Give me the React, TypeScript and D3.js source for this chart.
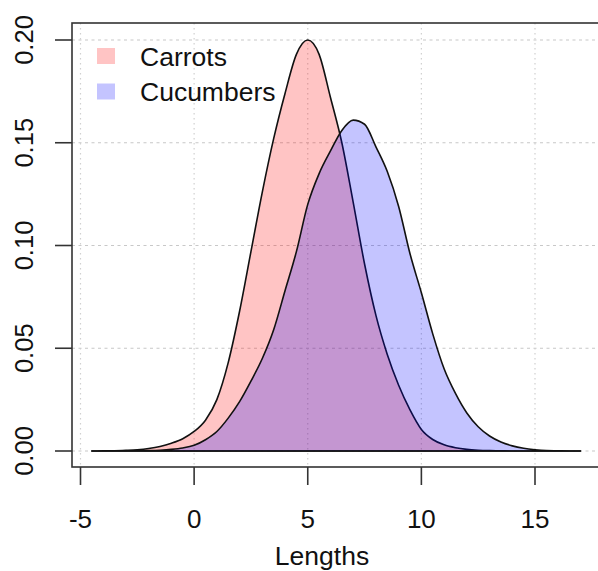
import React from "react";
import * as d3 from "d3";

const lengths = [-4.5,-4,-3.5,-3,-2.5,-2,-1.5,-1,-0.5,0,0.5,1,1.5,2,2.5,3,3.5,4,4.5,5,5.5,6,6.5,7,7.5,8,8.5,9,9.5,10,10.5,11,11.5,12,12.5,13,13.5,14,14.5,15,15.5,16,16.5,17];
const carrots = [0,0.00005,0.0001,0.0003,0.0006,0.0012,0.0022,0.0038,0.006,0.0095,0.015,0.025,0.043,0.068,0.097,0.126,0.152,0.174,0.193,0.2,0.193,0.172,0.15,0.121,0.091,0.066,0.047,0.032,0.02,0.0105,0.0056,0.003,0.0016,0.0008,0.0004,0.0002,0.0001,0,0,0,0,0,0,0];
const cucumbers = [0,0,0.00002,0.00005,0.0001,0.0002,0.0004,0.0008,0.0015,0.0028,0.0055,0.0095,0.016,0.024,0.034,0.045,0.059,0.078,0.097,0.12,0.135,0.146,0.156,0.161,0.159,0.148,0.136,0.119,0.096,0.077,0.057,0.04,0.028,0.0185,0.0118,0.0073,0.0044,0.0025,0.0013,0.0006,0.0002,0.0001,0,0];
const xTicks = [-5, 0, 5, 10, 15];
const yTicks = [0, 0.05, 0.1, 0.15, 0.2];
const seriesNames = ["Carrots", "Cucumbers"];
const seriesColors = ["rgba(255,0,0,0.23)", "rgba(0,0,255,0.23)"];

export default function App() {
  const W = 598, H = 571;
  const left = 72, top = 23, bottom = 467;
  const x = d3.scaleLinear().domain([-5, 15]).range([80.5, 535]);
  const y = d3.scaleLinear().domain([0, 0.2]).range([451, 40]);
  const area = d3.area<number>()
    .x((_, i) => x(lengths[i]))
    .y0(y(0))
    .y1((d) => y(d))
    .curve(d3.curveMonotoneX);
  const series = [carrots, cucumbers];
  const font = "'Liberation Sans', Arial, Helvetica, sans-serif";
  return (
    <svg width={W} height={H} style={{ position: "absolute", left: 0, top: 0, background: "#fff" }}>
      <defs>
        <clipPath id="plot">
          <rect x={left} y={top} width={W - left} height={bottom - top} />
        </clipPath>
      </defs>
      <g clipPath="url(#plot)">
        {yTicks.map((t) => (
          <line key={"gy" + t} x1={left} x2={W} y1={y(t)} y2={y(t)} stroke="#c8c8c8" strokeWidth={1.2} strokeDasharray="3,3.5" />
        ))}
        {xTicks.map((t) => (
          <line key={"gx" + t} x1={x(t)} x2={x(t)} y1={top} y2={bottom} stroke="#d0d0d0" strokeWidth={1.2} strokeDasharray="1.5,3.5" />
        ))}
        {series.map((s, i) => (
          <path key={"a" + i} d={area(s) || ""} fill={seriesColors[i]} stroke="#111" strokeWidth={1.6} strokeLinejoin="round" />
        ))}
      </g>
      <rect x={left} y={top} width={W} height={bottom - top} fill="none" stroke="#333" strokeWidth={1.6} />
      {yTicks.map((t) => (
        <g key={"yt" + t}>
          <line x1={55} x2={left} y1={y(t)} y2={y(t)} stroke="#333" strokeWidth={1.6} />
          <text transform={`translate(33,${y(t)}) rotate(-90)`} textAnchor="middle" fontFamily={font} fontSize={25.5} fill="#111">
            {t.toFixed(2)}
          </text>
        </g>
      ))}
      {xTicks.map((t) => (
        <g key={"xt" + t}>
          <line x1={x(t)} x2={x(t)} y1={bottom} y2={485} stroke="#333" strokeWidth={1.6} />
          <text x={x(t)} y={528} textAnchor="middle" fontFamily={font} fontSize={26} fill="#111">
            {t}
          </text>
        </g>
      ))}
      <text x={322} y={565} textAnchor="middle" fontFamily={font} fontSize={26.5} fill="#111">Lengths</text>
      {seriesNames.map((n, i) => (
        <g key={"lg" + n}>
          <rect x={97} y={48 + i * 35.5} width={18} height={16} fill={seriesColors[i]} />
          <text x={140} y={57 + i * 35} dominantBaseline="central" fontFamily={font} fontSize={26.5} fill="#111">{n}</text>
        </g>
      ))}
    </svg>
  );
}
